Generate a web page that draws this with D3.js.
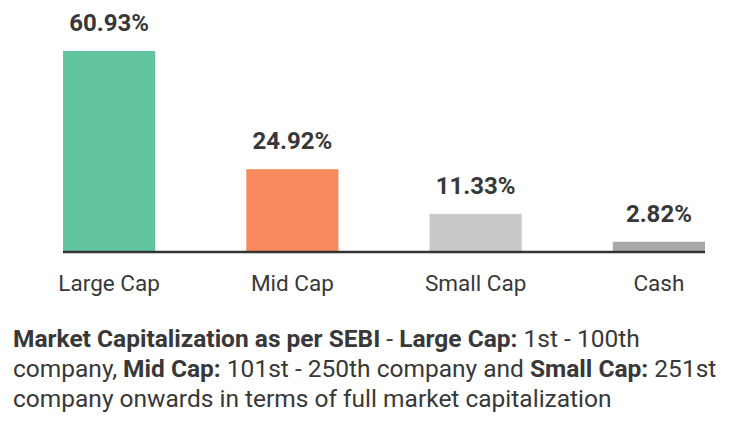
<!DOCTYPE html>
<html>
<head>
<meta charset="utf-8">
<script src="https://cdn.jsdelivr.net/npm/d3@7"></script>
<style>
  body { margin: 0; background: #fff; }
  text { font-family: Roboto, "Open Sans", sans-serif; fill: #383838; }
</style>
</head>
<body>
<script>
const categories = ["Large Cap", "Mid Cap", "Small Cap", "Cash"];
const values = [60.93, 24.92, 11.33, 2.82];
const colors = ["#62c5a0", "#f88a5d", "#c9c9c9", "#a9a9a9"];

const width = 742, height = 437;
const baseY = 251;

const svg = d3.select('body').append('svg')
    .attr('width', width)
    .attr('height', height)

const x = d3.scaleBand()
    .domain(categories)
    .range([63, 705])
    .paddingInner(0.497)
    .paddingOuter(0)

const y = d3.scaleLinear()
    .domain([0, 60.93])
    .range([baseY, 51])

svg.selectAll('rect.bar')
    .data(values)
    .enter()
    .append('rect')
    .attr('class', 'bar')
    .attr('x', (_, i) => x(categories[i]))
    .attr('y', d => y(d))
    .attr('width', x.bandwidth())
    .attr('height', d => baseY - y(d))
    .attr('fill', (_, i) => colors[i])

// baseline
svg.append('line')
    .attr('x1', x.range()[0])
    .attr('x2', x.range()[1])
    .attr('y1', baseY + 1)
    .attr('y2', baseY + 1)
    .attr('stroke', '#333')
    .attr('stroke-width', 2.5)

svg.selectAll('text.val')
    .data(values)
    .enter()
    .append('text')
    .attr('class', 'val')
    .attr('x', (_, i) => x(categories[i]) + x.bandwidth() / 2)
    .attr('y', d => y(d) - 20)
    .attr('text-anchor', 'middle')
    .attr('font-size', 24)
    .attr('font-weight', 'bold')
    .text(d => d.toFixed(2) + '%')

svg.selectAll('text.cat')
    .data(categories)
    .enter()
    .append('text')
    .attr('class', 'cat')
    .attr('x', d => x(d) + x.bandwidth() / 2)
    .attr('y', 291)
    .attr('text-anchor', 'middle')
    .attr('font-size', 22.5)
    .text(d => d)

// footnote
const note = [
    [["Market Capitalization as per SEBI", true], [" - ", false], ["Large Cap:", true], [" 1st - 100th", false]],
    [["company, ", false], ["Mid Cap:", true], [" 101st - 250th company and ", false], ["Small Cap:", true], [" 251st", false]],
    [["company onwards in terms of full market capitalization", false]]
];

note.forEach((line, i) => {
    const t = svg.append('text')
        .attr('x', 13)
        .attr('y', 347 + i * 30)
        .attr('font-size', 24.5)
    line.forEach(([s, b]) => {
        t.append('tspan')
            .attr('font-weight', b ? 'bold' : 'normal')
            .text(s)
    })
})
</script>
</body>
</html>
